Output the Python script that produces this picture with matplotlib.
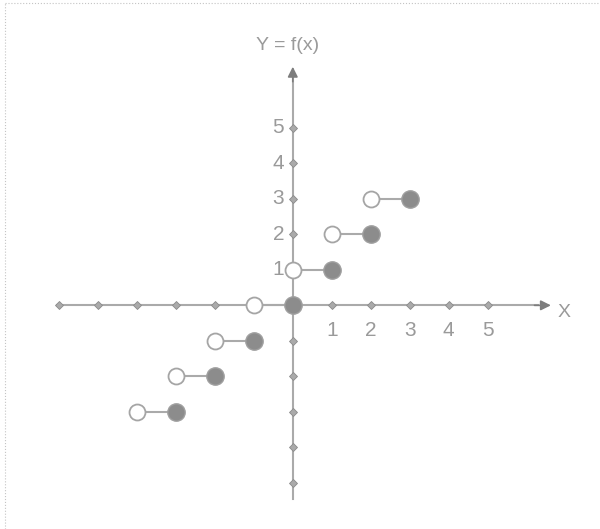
import matplotlib.pyplot as plt

# ceiling function steps: open end at left, filled end at right
step_y = [-3, -2, -1, 0, 1, 2, 3]
open_x = [-4, -3, -2, -1, 0, 1, 2]
closed_x = [-3, -2, -1, 0, 1, 2, 3]

x_ticks = [-6, -5, -4, -3, -2, -1, 1, 2, 3, 4, 5]
y_ticks = [-5, -4, -3, -2, -1, 1, 2, 3, 4, 5]
x_labels = ['1', '2', '3', '4', '5']
y_labels = ['1', '2', '3', '4', '5']

line_c = '#aaaaaa'
dark_c = '#7d7d7d'
text_c = '#9a9a9a'

fig = plt.figure(figsize=(6, 5.29), dpi=100)
ax = fig.add_axes([0, 0, 1, 1])
ax.set_xlim(-7.51, 7.88)
ax.set_ylim(-6.30, 8.60)
ax.axis('off')

# frame of the scan (top and left dotted edges)
ax.plot([0.008, 1], [0.994, 0.994], transform=ax.transAxes, color='#c4c4c4', lw=0.8, ls=':')
ax.plot([0.008, 0.008], [0.0, 0.994], transform=ax.transAxes, color='#c4c4c4', lw=0.8, ls=':')

# axes with arrows
ax.annotate('', xy=(6.62, 0), xytext=(6.2, 0),
            arrowprops=dict(arrowstyle='-|>', lw=1.2, mutation_scale=15,
                            shrinkA=0, shrinkB=0, fc=dark_c, ec=dark_c))
ax.plot([-6.05, 6.3], [0, 0], color=line_c, lw=1.5)
ax.annotate('', xy=(0, 6.72), xytext=(0, 6.3),
            arrowprops=dict(arrowstyle='-|>', lw=1.2, mutation_scale=15,
                            shrinkA=0, shrinkB=0, fc=dark_c, ec=dark_c))
ax.plot([0, 0], [-5.46, 6.4], color=line_c, lw=1.5)

# tick marks
ax.plot(x_ticks, [0] * len(x_ticks), 'D', color=line_c, ms=4, mec='#8a8a8a', mew=0.6)
ax.plot([0] * len(y_ticks), y_ticks, 'D', color=line_c, ms=4, mec='#8a8a8a', mew=0.6)

# step segments
for xo, xc, y in zip(open_x, closed_x, step_y):
    ax.plot([xo, xc], [y, y], color=line_c, lw=1.5, zorder=3)
ax.plot(open_x, step_y, 'o', ms=11.5, mfc='white', mec='#a5a5a5', mew=1.3, zorder=4)
ax.plot(closed_x, step_y, 'o', ms=12.5, mfc='#8c8c8c', mec='#a0a0a0', mew=1, zorder=5)

# tick labels
for i, lab in enumerate(x_labels):
    ax.text(i + 1, -0.72, lab, color=text_c, fontsize=15, ha='center', va='center',
            family='Liberation Sans')
for i, lab in enumerate(y_labels):
    ax.text(-0.22, i + 1, lab, color=text_c, fontsize=15, ha='right', va='center',
            family='Liberation Sans')

ax.text(6.96, -0.2, 'X', color=text_c, fontsize=14, ha='center', va='center',
        family='Liberation Sans')
ax.text(-0.14, 7.33, 'Y = f(x)', color=text_c, fontsize=14, ha='center', va='center',
        family='Liberation Sans')

fig.savefig('out.png', dpi=100, facecolor='white')
